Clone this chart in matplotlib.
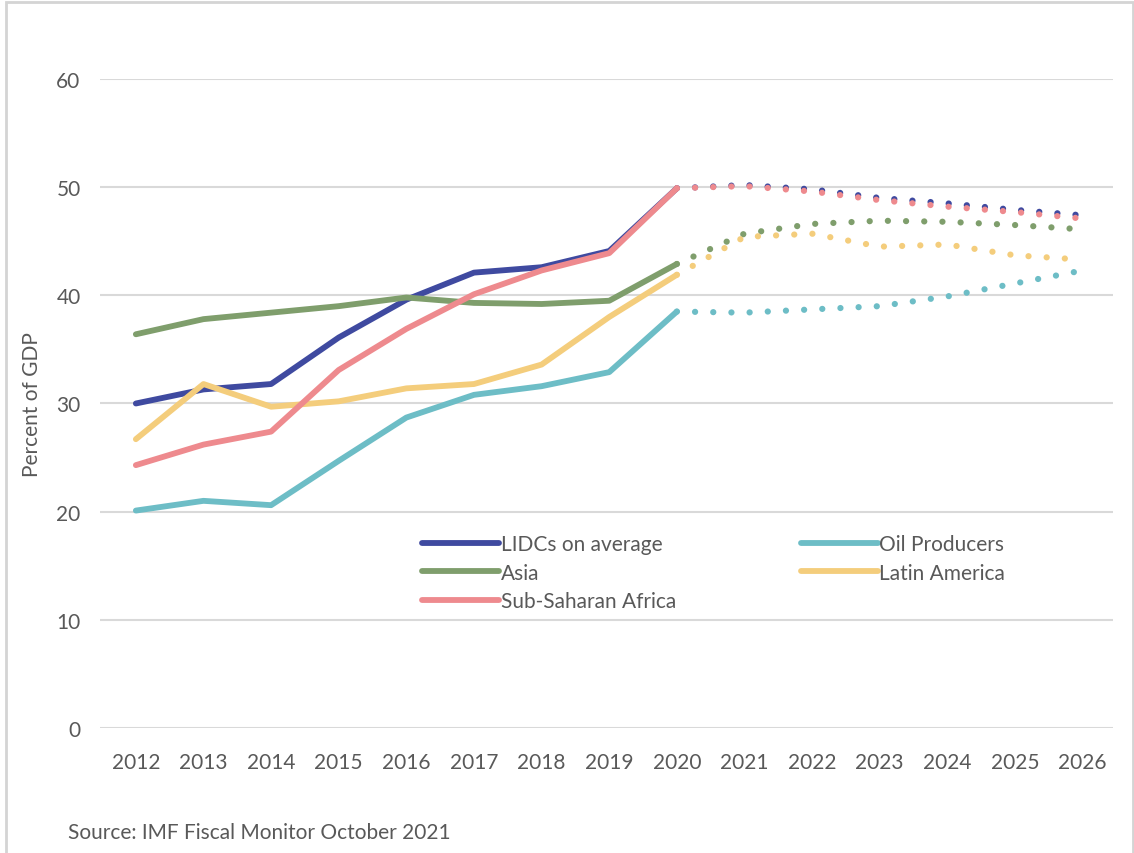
import matplotlib
matplotlib.use("Agg")
import matplotlib.pyplot as plt
from matplotlib.patches import Rectangle

plt.rcParams['font.family'] = ['Lato', 'DejaVu Sans']

# data
years = list(range(2012, 2027))
last_actual = 2020

lidc = [30.0, 31.3, 31.8, 36.1, 39.6, 42.1, 42.6, 44.1, 49.9,
        50.2, 49.8, 49.0, 48.5, 47.9, 47.4]
oil = [20.1, 21.0, 20.6, 24.7, 28.7, 30.8, 31.6, 32.9, 38.5,
       38.4, 38.7, 39.0, 39.9, 41.1, 42.3]
asia = [36.4, 37.8, 38.4, 39.0, 39.8, 39.3, 39.2, 39.5, 42.9,
        45.7, 46.6, 46.9, 46.8, 46.5, 46.1]
latam = [26.7, 31.8, 29.7, 30.2, 31.4, 31.8, 33.6, 38.0, 41.9,
         45.4, 45.7, 44.5, 44.7, 43.7, 43.3]
ssa = [24.3, 26.2, 27.4, 33.1, 36.9, 40.1, 42.3, 43.9, 49.9,
       50.1, 49.6, 48.8, 48.2, 47.7, 47.1]

names = ['LIDCs on average', 'Oil Producers', 'Asia', 'Latin America', 'Sub-Saharan Africa']
series = [lidc, oil, asia, latam, ssa]
colors = ['#3F4AA0', '#6DBDC6', '#7F9E6C', '#F4CD7C', '#EE8A8E']

grey = '#595959'
FS = 15

fig = plt.figure(figsize=(11.34, 8.54), dpi=100)
ax = fig.add_axes([0.0882, 0.1464, 0.8933, 0.7599])

k = years.index(last_actual)
for name, vals, c in zip(names, series, colors):
    ax.plot(years[:k + 1], vals[:k + 1], color=c, lw=4.2,
            solid_capstyle='round', label=name, zorder=3)
    ax.plot(years[k:], vals[k:], color=c, lw=4.5,
            linestyle=(0, (0.01, 2.9)), dash_capstyle='round', zorder=3)

ax.set_xlim(2011.47, 2026.45)
ax.set_ylim(0, 60)
ax.set_yticks(range(0, 61, 10))
ax.set_xticks(years)
ax.grid(axis='y', color='#D9D9D9', lw=1.5, zorder=0)
ax.set_axisbelow(True)
for s in ax.spines.values():
    s.set_visible(False)
ax.tick_params(length=0, labelsize=FS, labelcolor=grey)
ax.tick_params(axis='y', pad=14)
ax.tick_params(axis='x', pad=17)
ax.set_ylabel('Percent of GDP', fontsize=FS, color=grey, labelpad=10)

# matplotlib fills legend columns first, so reorder to get row order
h, l = ax.get_legend_handles_labels()
order = [0, 2, 4, 1, 3]
leg = ax.legend([h[i] for i in order], [l[i] for i in order], ncol=2,
                loc='upper left', bbox_to_anchor=(0.310, 0.312),
                frameon=False, fontsize=FS, handlelength=3.7,
                handletextpad=0.05, columnspacing=6.0, labelspacing=0.42,
                borderaxespad=0)
for t in leg.get_texts():
    t.set_color(grey)

fig.text(0.06, 0.018, 'Source: IMF Fiscal Monitor October 2021',
         fontsize=FS, color=grey)

fig.patches.append(Rectangle((0.005, -0.01), 0.994, 1.006, transform=fig.transFigure,
                             fill=False, edgecolor='#D4D4D4', lw=2))

fig.savefig('out.png', dpi=100)
